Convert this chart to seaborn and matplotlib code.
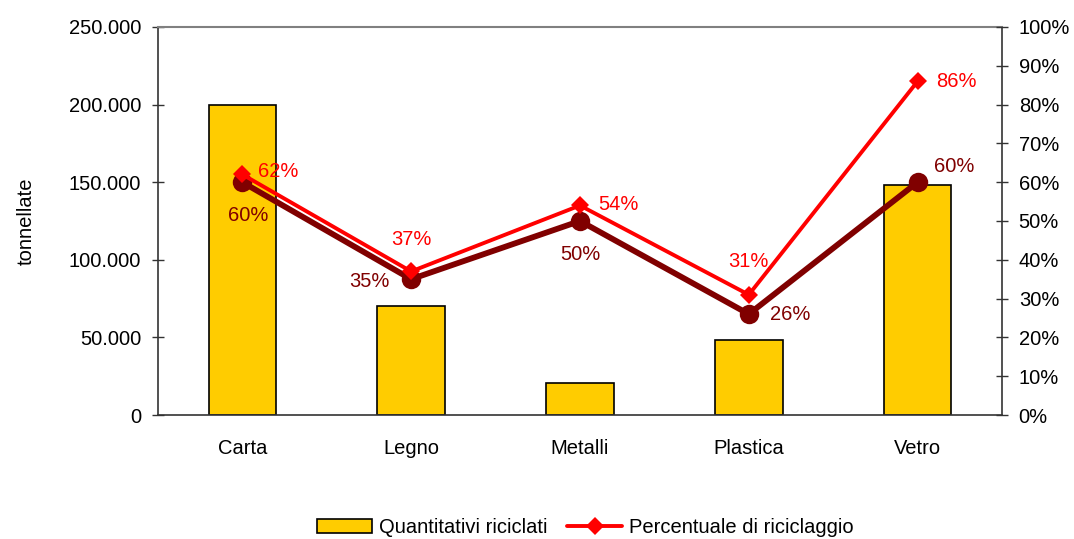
import matplotlib
matplotlib.use("Agg")
import matplotlib.pyplot as plt
import matplotlib.ticker as mticker
from matplotlib.patches import Patch
from matplotlib.lines import Line2D
import numpy as np
import pandas as pd
import seaborn as sns

# Recycling data
categories = ["Carta", "Legno", "Metalli", "Plastica", "Vetro"]
quantities = [200000, 70500, 20500, 48500, 148000]          # tonnellate
pct_recycling = [62, 37, 54, 31, 86]                          # red series
pct_recycling_prev = [60, 35, 50, 26, 60]                     # dark red series

bar_label = "Quantitativi riciclati"
line_label = "Percentuale di riciclaggio"

sns.set_theme(style="white")
plt.rcParams["font.family"] = ["Liberation Sans", "DejaVu Sans"]
plt.rcParams["text.color"] = "black"
plt.rcParams["axes.labelcolor"] = "black"
plt.rcParams["xtick.color"] = "black"
plt.rcParams["ytick.color"] = "black"

FS = 14.5

fig = plt.figure(figsize=(10.74, 5.39), dpi=100)
ax = fig.add_axes([0.147, 0.230, 0.786, 0.720])

df = pd.DataFrame({"cat": categories, "q": quantities})
sns.barplot(data=df, x="cat", y="q", ax=ax, color="#FFCC00",
            edgecolor="black", linewidth=1.2, width=0.40, saturation=1)

ax.set_xlim(-0.5, len(categories) - 0.5)
ax.set_ylim(0, 250000)
ax.yaxis.set_major_locator(mticker.MultipleLocator(50000))
ax.yaxis.set_major_formatter(mticker.FuncFormatter(
    lambda v, p: f"{int(v):,}".replace(",", ".")))
ax.set_xlabel("")
ax.set_ylabel("tonnellate", fontsize=FS, labelpad=24)
ax.tick_params(axis="y", labelsize=FS, direction="inout", length=8,
               width=1, color="#333333", pad=8)
# Category separators as minor ticks on the x axis
ax.xaxis.set_minor_locator(mticker.FixedLocator(np.arange(-0.5, len(categories), 1.0)))
ax.tick_params(axis="x", which="major", length=0, labelsize=FS, pad=17)
ax.tick_params(axis="x", which="minor", direction="inout", length=8,
               width=1, color="#333333")
for side in ["left", "bottom", "right"]:
    ax.spines[side].set_color("#333333")
    ax.spines[side].set_linewidth(1.2)
ax.spines["top"].set_color("#808080")
ax.spines["top"].set_linewidth(1.5)

# Percentages on a secondary axis
ax2 = ax.twinx()
pos = np.arange(len(categories))
sns.lineplot(x=pos, y=pct_recycling_prev, ax=ax2, color="#800000",
             linewidth=4.2, marker="o", markersize=14, markeredgewidth=0)
sns.lineplot(x=pos, y=pct_recycling, ax=ax2, color="#FF0000",
             linewidth=2.8, marker="D", markersize=9, markeredgewidth=0)
ax2.set_ylim(0, 100)
ax2.yaxis.set_major_locator(mticker.MultipleLocator(10))
ax2.yaxis.set_major_formatter(mticker.FuncFormatter(lambda v, p: f"{int(v)}%"))
ax2.tick_params(axis="y", labelsize=FS, direction="inout", length=8,
                width=1, color="#333333", pad=8)
for s in ax2.spines.values():
    s.set_visible(False)
ax2.set_ylabel("")

# Value labels (offsets in points)
red_offsets = [(26, 2), (0, 23), (28, 1), (0, 24), (28, 0)]
dark_offsets = [(4, -24), (-30, -2), (0, -24), (30, 0), (26, 11)]
for i, v in enumerate(pct_recycling):
    dx, dy = red_offsets[i]
    ax2.annotate(f"{v}%", (pos[i], v), xytext=(dx, dy), textcoords="offset points",
                 ha="center", va="center", color="#FF0000", fontsize=FS)
for i, v in enumerate(pct_recycling_prev):
    dx, dy = dark_offsets[i]
    ax2.annotate(f"{v}%", (pos[i], v), xytext=(dx, dy), textcoords="offset points",
                 ha="center", va="center", color="#800000", fontsize=FS)

handles = [
    Patch(facecolor="#FFCC00", edgecolor="black", linewidth=1.2, label=bar_label),
    Line2D([0], [0], color="#FF0000", linewidth=2.8, marker="D",
           markersize=9, markeredgewidth=0, label=line_label),
]
fig.legend(handles=handles, loc="lower center", bbox_to_anchor=(0.545, -0.03),
           ncol=2, frameon=False, fontsize=FS, handlelength=2.7,
           handletextpad=0.35, columnspacing=1.0)

fig.savefig("out.png", dpi=100)
